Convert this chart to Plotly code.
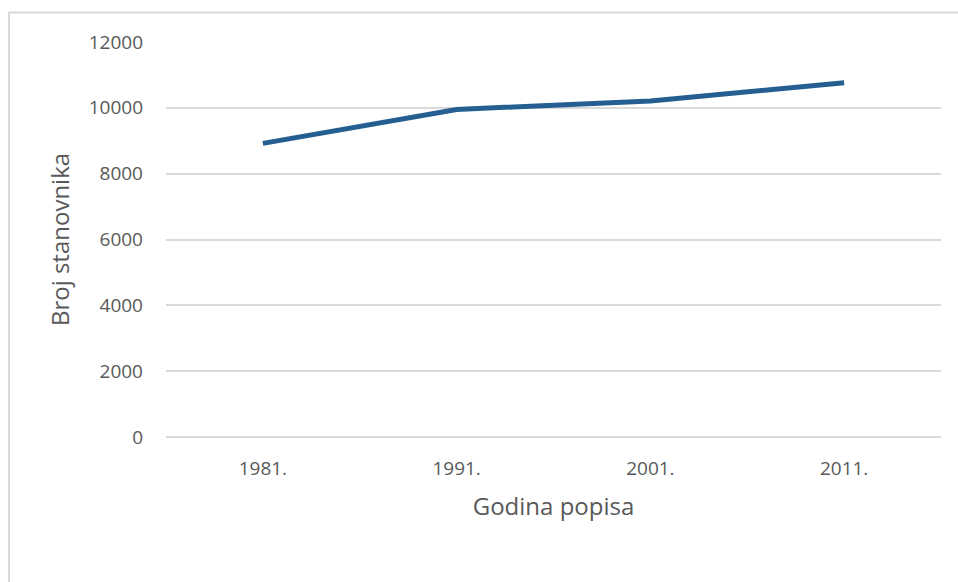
import plotly.graph_objects as go

years = ["1981.", "1991.", "2001.", "2011."]
population = [8920, 9950, 10210, 10760]
y_ticks = [0, 2000, 4000, 6000, 8000, 10000, 12000]
y_tick_labels = ["0", "2000", "4000", "6000", "8000", "10000", "12000"]

W, H = 958, 582
L, R, T, B = 166, 17, 42, 145
pw, ph = W - L - R, H - T - B

def px_x(x):
    return (x - L) / pw

def px_y(y):
    return (H - B - y) / ph

fig = go.Figure()
fig.add_trace(go.Scatter(
    x=years, y=population, mode="lines",
    line=dict(color="#255E91", width=5),
    hoverinfo="skip", showlegend=False,
))

font_family = "Open Sans, Liberation Sans, Arial"
fig.update_layout(
    width=W, height=H,
    margin=dict(l=L, r=R, t=T, b=B),
    paper_bgcolor="white", plot_bgcolor="white",
    font=dict(family=font_family, color="#595959", size=19),
    xaxis=dict(
        type="category", range=[-0.5, 3.5],
        showgrid=False, zeroline=False, showline=False,
        ticks="", ticklabelstandoff=18,
        tickfont=dict(size=19, color="#595959"),
        title=dict(text="Godina popisa", font=dict(size=24, color="#595959"),
                   standoff=18),
    ),
    yaxis=dict(
        range=[0, 12000], tickvals=y_ticks, ticktext=y_tick_labels,
        showgrid=True, gridcolor="#d9d9d9", gridwidth=2,
        zeroline=True, zerolinecolor="#d9d9d9", zerolinewidth=2,
        showline=False, ticks="",
        ticklabelstandoff=22,
        tickfont=dict(size=19, color="#595959"),
        title=dict(text="Broj stanovnika", font=dict(size=24, color="#595959"),
                   standoff=12),
    ),
    shapes=[
        dict(type="line", xref="paper", yref="paper",
             x0=px_x(9), x1=px_x(960), y0=px_y(12.5), y1=px_y(12.5),
             line=dict(color="#d9d9d9", width=2)),
        dict(type="line", xref="paper", yref="paper",
             x0=px_x(9), x1=px_x(9), y0=px_y(12), y1=px_y(590),
             line=dict(color="#d9d9d9", width=2)),
    ],
)

fig.write_html("out.html")
